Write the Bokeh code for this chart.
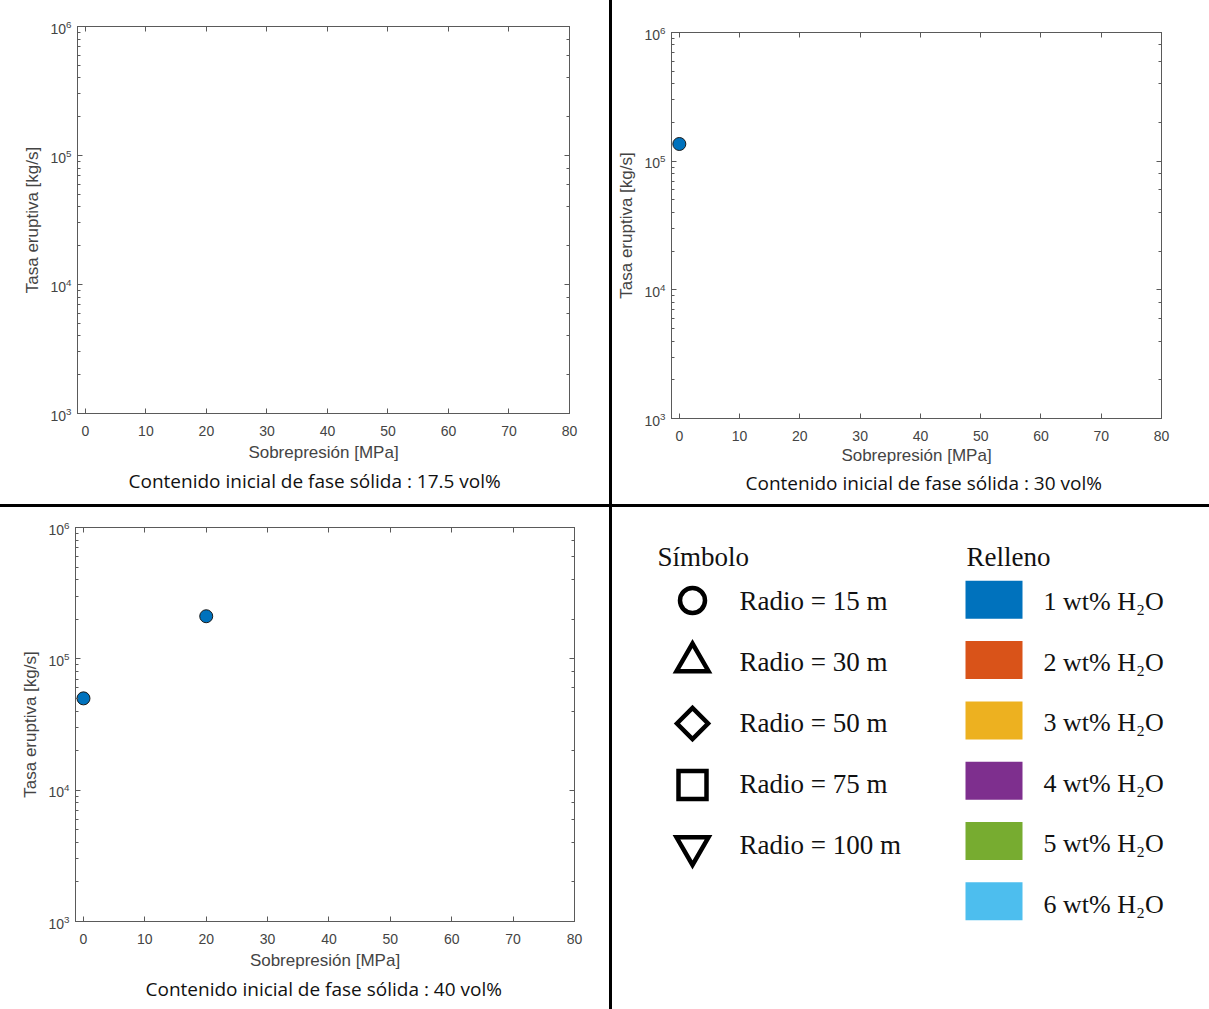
import math
from bokeh.plotting import figure
from bokeh.layouts import row, column
from bokeh.models import (Range1d, LinearAxis, LogAxis, FixedTicker, Title, Spacer,
                          ColumnDataSource, LabelSet)
from bokeh.embed import file_html
from bokeh.resources import INLINE
from bokeh.core.properties import value

# ---------------- data ----------------
x_ticks = [0, 10, 20, 30, 40, 50, 60, 70, 80]
captions = [
    "Contenido inicial de fase sólida : 17.5 vol%",
    "Contenido inicial de fase sólida : 30 vol%",
    "Contenido inicial de fase sólida : 40 vol%",
]
# overpressure [MPa] and eruptive rate [kg/s] for each panel (1 wt% H2O, radius 15 m)
p175_x = []
p175_y = []
p30_x = [0]
p30_y = [1.36e5]
p40_x = [0, 20]
p40_y = [5.0e4, 2.11e5]

radio_labels = ["Radio = 15 m", "Radio = 30 m", "Radio = 50 m", "Radio = 75 m", "Radio = 100 m"]
water_labels = ["1 wt% H₂O", "2 wt% H₂O", "3 wt% H₂O", "4 wt% H₂O", "5 wt% H₂O", "6 wt% H₂O"]
water_colors = ["#0072BD", "#D95319", "#EDB120", "#7E2F8E", "#77AC30", "#4DBEEE"]

# ---------------- styles ----------------
FRAME = "#5a5a5a"
TICKTXT = "#444444"
AXFONT = "Liberation Sans"


def style_axis(ax, labels=True):
    ax.axis_line_color = FRAME
    ax.major_tick_line_color = FRAME
    ax.minor_tick_line_color = FRAME
    ax.major_tick_in = 5
    ax.major_tick_out = 0
    ax.minor_tick_in = 3
    ax.minor_tick_out = 0
    ax.major_label_text_font = AXFONT
    ax.axis_label_text_font = AXFONT
    ax.axis_label_text_font_style = "normal"
    ax.axis_label_text_color = TICKTXT
    ax.axis_label_text_font_size = "17px"
    if labels:
        ax.major_label_text_font_size = "14px"
        ax.major_label_text_color = TICKTXT
    else:
        ax.major_label_text_font_size = "6px"
        ax.major_label_text_color = None
        ax.major_label_standoff = 0


def make_panel(w, h, bl, bt, br, bb, xs, ys, caption, cap_standoff, cap_offset, xlab_standoff):
    p = figure(width=w, height=h, y_axis_type="log",
               x_range=Range1d(-1.3, 80), y_range=Range1d(1e3, 1e6),
               output_backend="svg", toolbar_location=None,
               min_border_left=bl, min_border_top=bt,
               min_border_right=br, min_border_bottom=bb)
    p.frame_align = False
    p.grid.visible = False
    p.outline_line_color = FRAME
    p.xaxis.ticker = FixedTicker(ticks=x_ticks, minor_ticks=[])
    p.xaxis.axis_label = "Sobrepresión [MPa]"
    p.yaxis.axis_label = "Tasa eruptiva [kg/s]"
    for ax in p.xaxis:
        style_axis(ax)
        ax.major_label_standoff = 12
        ax.axis_label_standoff = xlab_standoff
    for ax in p.yaxis:
        style_axis(ax)
        ax.major_label_standoff = 6
        ax.axis_label_standoff = 5
    top = LinearAxis(ticker=FixedTicker(ticks=x_ticks, minor_ticks=[]))
    style_axis(top, labels=False)
    p.add_layout(top, "above")
    right = LogAxis()
    style_axis(right, labels=False)
    p.add_layout(right, "right")
    p.add_layout(Title(text=caption, align="left", offset=cap_offset, text_font="Open Sans",
                       text_font_size="19px", text_font_style="normal",
                       text_color="#111111", standoff=cap_standoff), "below")
    p.scatter(x=xs, y=ys, marker="circle", size=13, fill_color=water_colors[0],
              line_color="#1a1a1a", line_width=1)
    return p


tl = make_panel(609, 504, 77, 26, 40, 91, p175_x, p175_y, captions[0], 3, 51, 4)
tr = make_panel(597, 504, 59, 32, 48, 86, p30_x, p30_y, captions[1], 0, 74, 2)
bl = make_panel(609, 502, 75, 20, 35, 88, p40_x, p40_y, captions[2], 3, 70, 4)

# ---------------- legend panel ----------------
lg = figure(width=597, height=502, x_range=Range1d(612, 1209), y_range=Range1d(1009, 507),
            output_backend="svg", toolbar_location=None, min_border=0)
lg.frame_align = False
lg.axis.visible = False
lg.grid.visible = False
lg.outline_line_color = None

SERIF = value("Liberation Serif")


def add_labels(fig, xs, ys, texts, size):
    src = ColumnDataSource(dict(x=xs, y=ys, text=texts))
    fig.add_layout(LabelSet(x="x", y="y", text="text", source=src, text_font=SERIF,
                            text_font_size=size, text_color="#111111",
                            text_baseline="middle", text_align="left"))


add_labels(lg, [657, 966], [556, 556], ["Símbolo", "Relleno"], "27px")

sym_x, sym_y0, sym_dy = 692, 600, 61.5
sym_styles = [
    dict(marker="circle", size=25, angle=0),
    dict(marker="triangle", size=32, angle=0),
    dict(marker="square", size=22, angle=math.pi / 4),
    dict(marker="square", size=28, angle=0),
    dict(marker="inverted_triangle", size=32, angle=0),
]
for i, st in enumerate(sym_styles):
    lg.scatter(x=[sym_x], y=[sym_y0 + i * sym_dy], marker=st["marker"], size=st["size"],
               angle=st["angle"], fill_color=None, line_color="black", line_width=4.5,
               line_join="miter")
add_labels(lg, [739] * len(radio_labels), [600 + i * 61 for i in range(len(radio_labels))],
           radio_labels, "27px")

sw_y0, sw_dy = 599.3, 60.3
lg.rect(x=[993.5] * len(water_colors), y=[sw_y0 + i * sw_dy for i in range(len(water_colors))],
        width=57, height=38, fill_color=water_colors, line_color=None)
add_labels(lg, [1043] * len(water_labels), [601 + i * 60.5 for i in range(len(water_labels))],
           water_labels, "26px")

# ---------------- dividers & layout ----------------
hdiv_l = Spacer(width=609, height=3, styles={"background-color": "black"})
hdiv_r = Spacer(width=597, height=3, styles={"background-color": "black"})
vdiv = Spacer(width=3, height=1009, styles={"background-color": "black"})

layout = row(column(tl, hdiv_l, bl), vdiv, column(tr, hdiv_r, lg))

open("out.html", "w").write(file_html(layout, INLINE))
